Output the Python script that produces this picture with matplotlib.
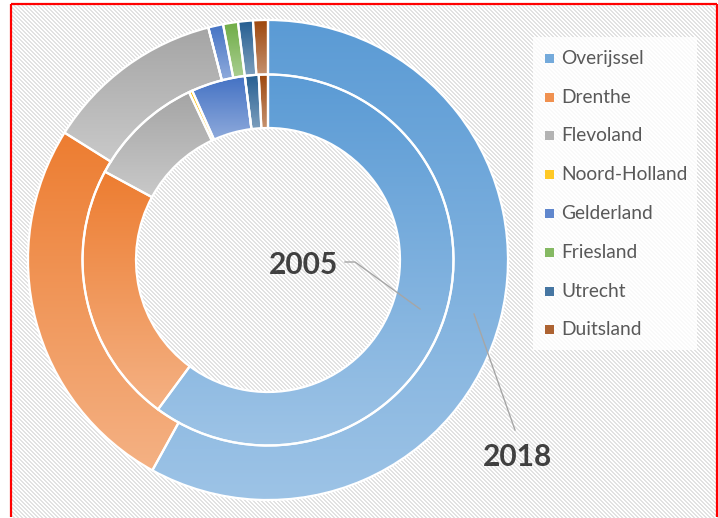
"""Doughnut chart: share per province, 2005 (inner ring) vs 2018 (outer ring)."""

import matplotlib.pyplot as plt
import numpy as np
from matplotlib.colors import to_rgb
from matplotlib.patches import PathPatch, Rectangle

provinces = [
    "Overijssel",
    "Drenthe",
    "Flevoland",
    "Noord-Holland",
    "Gelderland",
    "Friesland",
    "Utrecht",
    "Duitsland",
]
share_2005 = [60.1, 22.8, 10.1, 0.3, 4.7, 0.0, 1.2, 0.8]
share_2018 = [58.0, 25.9, 12.1, 0.0, 1.0, 1.0, 1.0, 1.0]
ring_labels = ["2005", "2018"]

colors = ["#5B9BD5", "#ED7D31", "#A5A5A5", "#FFC000", "#4472C4", "#70AD47", "#255E91", "#9E480E"]

W, H = 718, 518
FONT = "Lato"


def lighten(color, amount):
    rgb = np.array(to_rgb(color))
    return rgb + (1.0 - rgb) * amount


def draw_background(ax):
    # Diagonal stripe texture inside the red frame.
    yy, xx = np.mgrid[0:H, 0:W]
    stripes = ((xx - yy) % 4) < 2
    img = np.ones((H, W, 3))
    img[stripes] = to_rgb("#E2E2E2")
    outside = (xx < 11) | (yy < 4)
    img[outside] = 1.0
    ax.imshow(img, extent=(0, W, 0, H), origin="upper", interpolation="nearest", zorder=0)


def draw_ring(ax, values, radius, width):
    wedges, _ = ax.pie(
        values,
        radius=radius,
        center=(268, H - 260),
        startangle=90,
        counterclock=False,
        colors=colors,
        wedgeprops=dict(width=width, linewidth=0),
    )
    for wedge, value, color in zip(wedges, values, colors):
        wedge.set_zorder(2)
        if value <= 0:
            continue
        ext = wedge.get_path().get_extents()
        grad = np.linspace(0.0, 0.4, 64)
        img = np.array([lighten(color, a) for a in grad])[:, None, :]
        im = ax.imshow(
            img,
            extent=(ext.x0, ext.x1, ext.y0, ext.y1),
            origin="upper",
            aspect="auto",
            interpolation="bilinear",
            zorder=3,
        )
        im.set_clip_path(wedge)
    for wedge in wedges:
        outline = PathPatch(wedge.get_path(), facecolor="none", edgecolor="white",
                            linewidth=1.6, zorder=4)
        ax.add_patch(outline)


def main():
    fig = plt.figure(figsize=(W / 100, H / 100), dpi=100)
    ax = fig.add_axes([0, 0, 1, 1])

    draw_background(ax)
    draw_ring(ax, share_2018, radius=240, width=54.5)
    draw_ring(ax, share_2005, radius=185.5, width=53.5)

    ax.set_xlim(0, W)
    ax.set_ylim(0, H)
    ax.set_aspect("equal")
    ax.axis("off")

    # Ring labels with leader lines
    ax.text(303, H - 265, ring_labels[0], ha="center", va="center", fontsize=21.5,
            fontweight="bold", color="#404040", family=FONT, zorder=6)
    ax.plot([345, 355, 420], [H - 262, H - 262, H - 309], color="#A6A6A6", lw=1, zorder=6)
    ax.text(517, H - 457, ring_labels[1], ha="center", va="center", fontsize=21.5,
            fontweight="bold", color="#404040", family=FONT, zorder=6)
    ax.plot([474, 515], [H - 314, H - 430], color="#A6A6A6", lw=1, zorder=6)

    # Legend box
    ax.add_patch(Rectangle((533, H - 350), 164, 313, facecolor="white", alpha=0.8,
                           edgecolor="none", zorder=5))
    for i, (name, color) in enumerate(zip(provinces, colors)):
        yc = H - (58.3 + i * 38.8)
        ax.add_patch(Rectangle((544.5, yc - 4.5), 9, 9, facecolor=lighten(color, 0.15),
                               edgecolor="none", zorder=6))
        ax.text(561, yc, name, ha="left", va="center", fontsize=13.8, color="#595959",
                family=FONT, zorder=6)

    # Red frame: left, top and right edges only (the bottom lies outside the image)
    top = H - 4.3
    for xs, ys in [([11, 11], [1, top]), ([11, 717], [top, top]), ([717, 717], [top, 1])]:
        ax.plot(xs, ys, color="#FF0000", lw=1.6, solid_capstyle="butt", zorder=7)

    fig.savefig("out.png", dpi=100)
    plt.close(fig)


if __name__ == "__main__":
    main()
